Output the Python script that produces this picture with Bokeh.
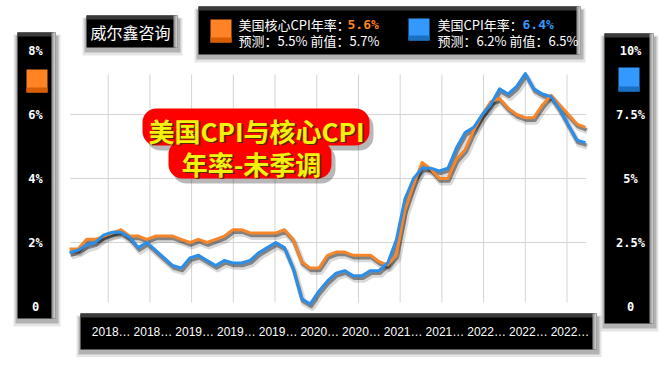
from bokeh.plotting import figure
from bokeh.models import Range1d
from bokeh.core.properties import value
from bokeh.embed import file_html
from bokeh.resources import INLINE

# ---------------- data ----------------
months = [f"{y}-{m:02d}" for y in range(2018, 2024) for m in range(1, 13)][:61]
core_cpi = [1.8, 1.8, 2.1, 2.1, 2.2, 2.3, 2.4, 2.2, 2.2, 2.1, 2.2, 2.2,
            2.2, 2.1, 2.0, 2.1, 2.0, 2.1, 2.2, 2.4, 2.4, 2.3, 2.3, 2.3,
            2.3, 2.4, 2.1, 1.4, 1.2, 1.2, 1.6, 1.7, 1.7, 1.6, 1.6, 1.6,
            1.4, 1.3, 1.6, 3.0, 3.8, 4.5, 4.3, 4.0, 4.0, 4.6, 4.9, 5.5,
            6.0, 6.4, 6.5, 6.2, 6.0, 5.9, 5.9, 6.3, 6.6, 6.3, 6.0, 5.7,
            5.6]
cpi = [2.1, 2.2, 2.4, 2.5, 2.8, 2.9, 2.9, 2.7, 2.3, 2.5, 2.2, 1.9,
       1.6, 1.5, 1.9, 2.0, 1.8, 1.6, 1.8, 1.7, 1.7, 1.8, 2.1, 2.3,
       2.5, 2.3, 1.5, 0.3, 0.1, 0.6, 1.0, 1.3, 1.4, 1.2, 1.2, 1.4,
       1.4, 1.7, 2.6, 4.2, 5.0, 5.4, 5.4, 5.3, 5.4, 6.2, 6.8, 7.0,
       7.5, 7.9, 8.5, 8.3, 8.6, 9.1, 8.5, 8.3, 8.2, 7.7, 7.1, 6.5,
       6.4]
left_ticks = [0, 2, 4, 6, 8]
left_tick_labels = ["0", "2%", "4%", "6%", "8%"]
right_ticks = [0, 2.5, 5, 7.5, 10]
right_tick_labels = ["0", "2.5%", "5%", "7.5%", "10%"]
grid_levels = [2, 4, 6]
x_tick_pos = [4.5, 9.35, 14.2, 19.05, 23.9, 28.75, 33.6, 38.45, 43.3, 48.15, 53.0, 57.85]
x_tick_labels = ["2018…", "2018…", "2019…", "2019…", "2019…", "2020…",
                 "2020…", "2021…", "2021…", "2022…", "2022…", "2022…"]
core_name, core_now, core_fc, core_prev = "美国核心CPI年率：", "5.6%", "5.5%", "5.7%"
cpi_name, cpi_now, cpi_fc, cpi_prev = "美国CPI年率：", "6.4%", "6.2%", "6.5%"
title_lines = ["美国CPI与核心CPI", "年率-未季调"]
brand = "威尔鑫咨询"

# ---------------- geometry ----------------
W, H = 660, 357
PX0, DX = 69, 8.6             # canvas x of first month, px per month
Y0, LS, RS = 306, 32.0, 25.6  # canvas y of zero, px per % (left / right)

def xr(shift=0):
    s = -(PX0 + shift) / DX
    return Range1d(s, s + W / DX)

def yr(scale, shift=0):
    return Range1d((Y0 + shift - H) / scale, (Y0 + shift) / scale)

idx = list(range(len(months)))

p = figure(width=W, height=H, x_range=xr(), y_range=yr(LS),
           output_backend="svg", toolbar_location=None,
           x_axis_location=None, y_axis_location=None,
           min_border=0, outline_line_color=None,
           background_fill_color="white", border_fill_color="white")
p.xgrid.visible = False
p.ygrid.visible = False

p.extra_x_ranges = {"px": Range1d(0, W), "xs1": xr(2), "xs2": xr(1)}
p.extra_y_ranges = {"py": Range1d(H, 0), "right": yr(RS),
                    "ls1": yr(LS, 4), "ls2": yr(LS, 2.5),
                    "rs1": yr(RS, 4), "rs2": yr(RS, 2.5)}

CJK = value("Noto Sans CJK SC")
MONO = value("DejaVu Sans Mono")

def q(l, t, r, b, color, alpha=1.0):
    p.quad(left=l, right=r, top=t, bottom=b, fill_color=color, fill_alpha=alpha,
           line_color=None, x_range_name="px", y_range_name="py")

def panel(l, t, r, b):
    q(l - 4, t + 2, r + 5, b + 8, "#000000", 0.10)
    q(l - 2, t + 3, r + 3, b + 5, "#000000", 0.22)
    q(l, t, r, b, "#000000")
    q(l, t, r, t + 4, "#3a3a3a")
    q(r - 4, t, r, b, "#9a9a9a")
    q(r - 2, t, r, b, "#c8c8c8")

def swatch(l, t, r, b, c1, c2):
    q(l, t, r, b, c1)
    q(l, b - 5, r, b, c2)

def txt(x, y, s, size, color="white", font=CJK, align="left", bold=False, xr_="px", yr_="py"):
    p.text(x=x, y=y, text=s, text_font=font, text_font_size=f"{size}px",
           text_color=color, text_align=align, text_baseline="middle",
           text_font_style="bold" if bold else "normal",
           x_range_name=xr_, y_range_name=yr_)

# ---------------- grid ----------------
p.segment(x0=x_tick_pos, x1=x_tick_pos, y0=[74] * len(x_tick_pos), y1=[302] * len(x_tick_pos),
          line_color="#d4d4d4", line_width=1, y_range_name="py")
p.segment(x0=[70] * len(grid_levels), x1=[586] * len(grid_levels), y0=grid_levels, y1=grid_levels,
          line_color="#d4d4d4", line_width=1, x_range_name="px")

# ---------------- line shadows ----------------
for xs, ls, rs, w, a in [("xs1", "ls1", "rs1", 6, 0.15), ("xs2", "ls2", "rs2", 3.5, 0.4)]:
    p.line(idx, core_cpi, line_color="#000000", line_alpha=a, line_width=w,
           x_range_name=xs, y_range_name=ls, line_join="round")
    p.line(idx, cpi, line_color="#000000", line_alpha=a, line_width=w,
           x_range_name=xs, y_range_name=rs, line_join="round")

# ---------------- series ----------------
p.line(idx, core_cpi, line_color="#f7862a", line_width=3, line_join="round")
p.line(idx, cpi, line_color="#2b8ee8", line_width=3, y_range_name="right", line_join="round")

# ---------------- title blob ----------------
p.rect(x=[259.5, 253.5], y=[131.5, 164], width=[227, 163], height=[37, 38],
       fill_color="#000000", fill_alpha=0.28, line_color=None, border_radius=14,
       x_range_name="px", y_range_name="py")
p.rect(x=[255.5, 249.5], y=[126.5, 159], width=[227, 163], height=[37, 38],
       fill_color="#ff0000", line_color=None, border_radius=14,
       x_range_name="px", y_range_name="py")
txt([257.5, 252.5], [131, 164], title_lines, 26, color="#5a2a00", align="center", bold=True)
txt([256, 251], [129.5, 162.5], title_lines, 26, color="#f2f20a", align="center", bold=True)

# ---------------- brand box ----------------
panel(86, 15, 177, 47)
txt([130], [31], [brand], 16, align="center")

# ---------------- legend box ----------------
panel(198, 6, 580, 54)
swatch(210, 19, 231, 42, "#ff8224", "#d95c00")
txt([238], [24], [core_name], 13)
txt([347], [24], [core_now], 13, color="#ff8224", font=MONO, bold=True)
txt([238], [40], [f"预测：{core_fc}  前值：{core_prev}"], 13)
swatch(408, 18, 429, 40, "#3399ff", "#1a70c2")
txt([437], [24], [cpi_name], 13)
txt([522], [24], [cpi_now], 13, color="#3399ff", font=MONO, bold=True)
txt([437], [40], [f"预测：{cpi_fc} 前值：{cpi_prev}"], 13)

# ---------------- left axis box ----------------
panel(17, 32, 55, 318)
swatch(26, 69, 47, 92, "#ff8224", "#d95c00")
p.text(x=[35] * len(left_ticks), y=left_ticks, text=left_tick_labels,
       text_font=MONO, text_font_size="12px", text_font_style="bold",
       text_color="white", text_align="center", text_baseline="middle",
       x_range_name="px")

# ---------------- right axis box ----------------
panel(604, 33, 653, 323)
swatch(618, 67, 639, 91, "#3399ff", "#1a70c2")
p.text(x=[630] * len(right_ticks), y=right_ticks, text=right_tick_labels,
       text_font=MONO, text_font_size="12px", text_font_style="bold",
       text_color="white", text_align="center", text_baseline="middle",
       x_range_name="px", y_range_name="right")

# ---------------- bottom axis box ----------------
panel(80, 313, 596, 349)
p.text(x=[t + 0.35 for t in x_tick_pos], y=[331] * len(x_tick_pos), text=x_tick_labels,
       text_font=value("Liberation Sans"), text_font_size="12px",
       text_color="white", text_align="center", text_baseline="middle",
       y_range_name="py")

open("out.html", "w").write(file_html(p, INLINE))
